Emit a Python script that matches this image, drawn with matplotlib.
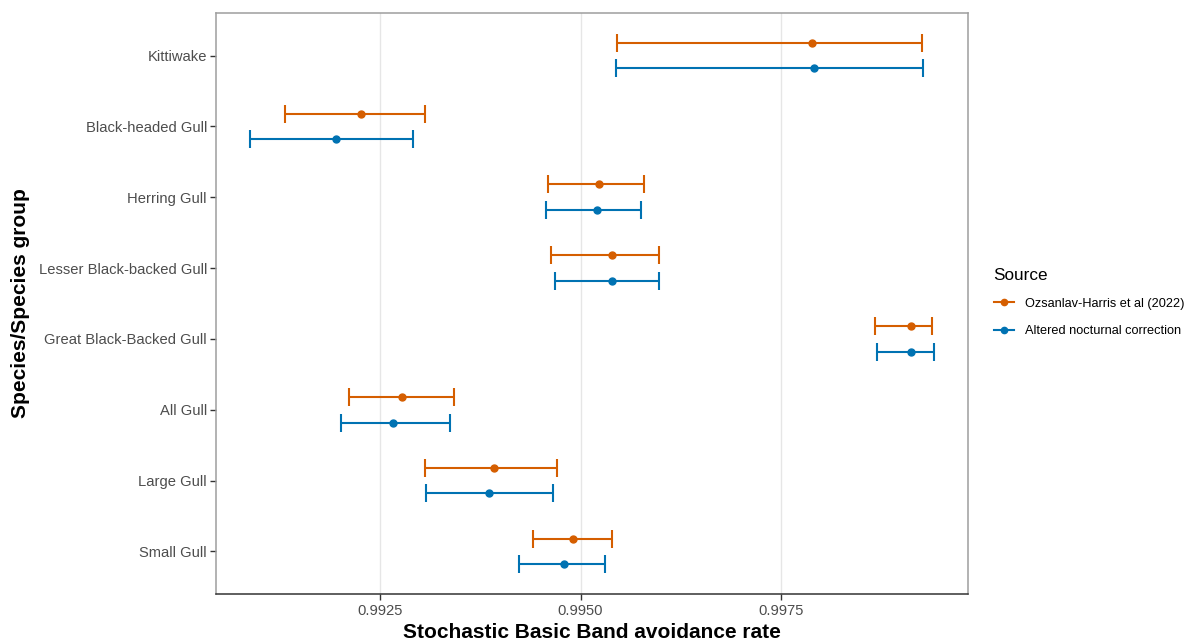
import numpy as np
import matplotlib
matplotlib.use('Agg')
import matplotlib.pyplot as plt
from matplotlib.lines import Line2D

plt.rcParams['font.family'] = ['Liberation Sans', 'DejaVu Sans']

# species, top to bottom
species = ['Kittiwake', 'Black-headed Gull', 'Herring Gull', 'Lesser Black-backed Gull',
           'Great Black-Backed Gull', 'All Gull', 'Large Gull', 'Small Gull']

sources = ['Ozsanlav-Harris et al (2022)', 'Altered nocturnal correction']
colours = ['#D55E00', '#0072B2']

# Ozsanlav-Harris et al (2022)
oh_mean = [0.997886, 0.992264, 0.995228, 0.995386, 0.999117, 0.992774, 0.993922, 0.994909]
oh_low = [0.995460, 0.991318, 0.994593, 0.994631, 0.998669, 0.992114, 0.993060, 0.994412]
oh_high = [0.999254, 0.993060, 0.995792, 0.995974, 0.999378, 0.993420, 0.994701, 0.995386]

# altered nocturnal correction
an_mean = [0.997911, 0.991956, 0.995208, 0.995386, 0.999117, 0.992670, 0.993864, 0.994789]
an_low = [0.995439, 0.990887, 0.994573, 0.994680, 0.998694, 0.992019, 0.993076, 0.994229]
an_high = [0.999262, 0.992910, 0.995750, 0.995983, 0.999399, 0.993374, 0.994655, 0.995299]

x_ticks = [0.9925, 0.9950, 0.9975]

W, H = 1199, 642
fig = plt.figure(figsize=(W / 100, H / 100), dpi=100)
ax = fig.add_axes([216 / W, (H - 594) / H, (968 - 216) / W, (594 - 13) / H])

ypos = np.arange(len(species))[::-1] + 1.0
offsets = [0.18, -0.18]
series = [(oh_mean, oh_low, oh_high), (an_mean, an_low, an_high)]

for (mean, low, high), col, off in zip(series, colours, offsets):
    mean = np.array(mean)
    err = [mean - np.array(low), np.array(high) - mean]
    ax.errorbar(mean, ypos + off, xerr=err, fmt='o', color=col, ecolor=col,
                elinewidth=1.5, capsize=6.2, capthick=1.5, markersize=5, zorder=3)

# ggplot-like 5% expansion on x, 0.6 on discrete y
lo = min(min(oh_low), min(an_low))
hi = max(max(oh_high), max(an_high))
pad = (hi - lo) * 0.05
ax.set_xlim(lo - pad, hi + pad)
ax.set_ylim(0.4, len(species) + 0.6)

ax.set_xticks(x_ticks)
ax.set_xticklabels([f'{t:.4f}' for t in x_ticks])
ax.set_yticks(ypos)
ax.set_yticklabels(species)
ax.tick_params(axis='both', labelsize=10.6, colors='#333333', length=4, width=1.0,
               labelcolor='#4d4d4d')
ax.tick_params(axis='y', pad=2.5)
ax.grid(axis='x', color='#e6e6e6', lw=1.0)
ax.set_axisbelow(True)

for side in ['top', 'left', 'right']:
    ax.spines[side].set_color('#9e9e9e')
    ax.spines[side].set_linewidth(1.1)
ax.spines['bottom'].set_color('#333333')
ax.spines['bottom'].set_linewidth(1.1)

ax.set_xlabel('Stochastic Basic Band avoidance rate', fontsize=15, fontweight='bold',
              labelpad=3)
ax.set_ylabel('Species/Species group', fontsize=15, fontweight='bold', labelpad=6)

handles = [Line2D([0], [0], color=c, marker='o', markersize=4.5, lw=1.5) for c in colours]
leg = fig.legend(handles, sources, title='Source', loc='upper left',
                 bbox_to_anchor=(982 / W, 1 - 256 / H), frameon=False,
                 fontsize=9.2, title_fontsize=12.3, handlelength=1.6,
                 handletextpad=0.9, labelspacing=1.2)
leg._legend_box.align = 'left'

fig.savefig('out.png', dpi=100)
